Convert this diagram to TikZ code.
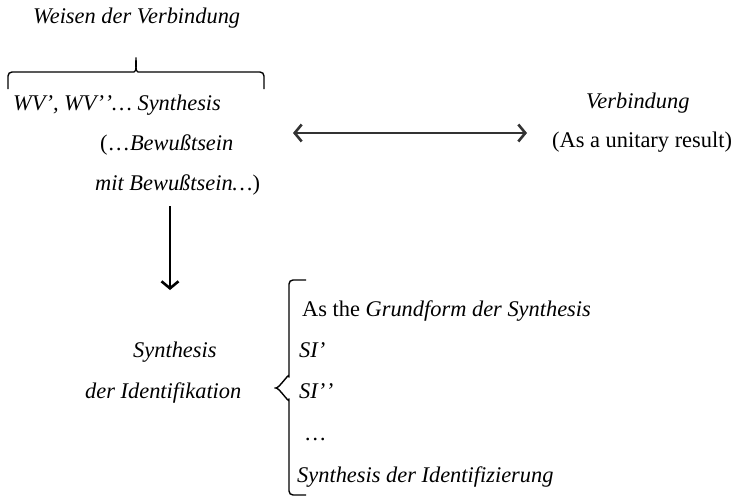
\documentclass[tikz,border=0pt]{standalone}
\usepackage{fontspec}
\setmainfont{Liberation Serif}
\usetikzlibrary{arrows.meta, decorations.pathreplacing, positioning}

\tikzset{
txt/.style = {anchor = base west, inner sep = 0pt, font = \fontsize{22.4}{26}\selectfont},
curly/.style = {line width = 1.4pt, rounded corners = 4pt},
barb/.tip = {Straight Barb[length = 7pt, width = 17pt, line width = 2.6pt]},
}

\begin{document}
\begin{tikzpicture}[x = 1pt, y = -1pt]
\useasboundingbox (0, 0) rectangle (734, 498);
\node[txt] at (33, 23) (wdv) {\textit{Weisen der Verbindung}};
\node[txt] at (13, 110) (wv) {\textit{WV’, WV’\kern0.6pt’… Synthesis}};
\node[txt] at (100, 150) (bw1) {(…\textit{Bewußtsein}};
\node[txt] at (95, 190) (bw2) {\textit{mit Bewußtsein…})};
\node[txt] at (586, 108) (vb) {\textit{Verbindung}};
\node[txt] at (552, 147) (res) {(As a unitary result)};
\node[txt] at (133, 357) (syn) {\textit{Synthesis}};
\node[txt] at (85, 398) (ident) {\textit{der Identifikation}};
\foreach \x/\y/\t [count = \i] in {302/316/{As the \textit{Grundform der Synthesis}}, 299/357/{\textit{SI’}}, 299/398/{\textit{SI’\kern0.6pt’}}, 304/440/{…}, 297/482/{\textit{Synthesis der Identifizierung}}}{
\node[txt] at (\x, \y) (si\i) {\t};}
% braces
\coordinate (wl) at (8, 89);
\coordinate (wm) at (136, 55);
\coordinate (wr) at (264, 89);
\draw[curly] (wl) |- (130, 72) to[out = 0, in = -90] (wm) to[out = -90, in = 180] (142, 72) -| (wr);
\coordinate (st) at (306, 280);
\coordinate (sm) at (272, 388);
\coordinate (sb) at (306, 495);
\draw[curly] (st) -| (289, 380) to[out = 90, in = 0] (sm) to[out = 0, in = -90] (289, 396) |- (sb);
% arrows
\coordinate (al) at (293, 133);
\coordinate (ar) at (527, 133);
\draw[barb-barb, black!80, line width = 2.4pt] (al) -- (ar);
\coordinate (dt) at (170, 206);
\coordinate (db) at (170, 290);
\draw[-barb, line width = 1.6pt] (dt) -- (db);
\end{tikzpicture}
\end{document}
